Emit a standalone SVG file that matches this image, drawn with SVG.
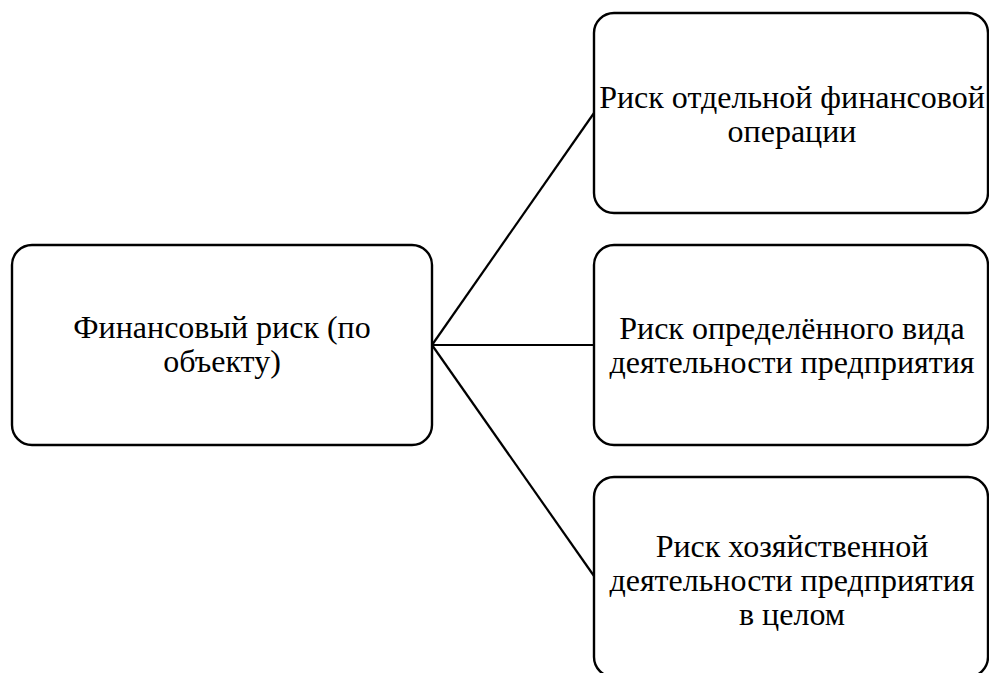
<svg xmlns="http://www.w3.org/2000/svg" width="989" height="673" viewBox="0 0 989 673">
  <style>
    .box { fill: #ffffff; stroke: #000000; stroke-width: 2.4; }
    .edge { fill: none; stroke: #000000; stroke-width: 2.2; }
    .label { font-family: 'Liberation Serif', 'Times New Roman', serif; font-size: 32px; fill: #000000; text-anchor: middle; }
  </style>
  <rect width="989" height="673" fill="#ffffff"/>
  <g id="connectors">
    <line class="edge" x1="432" y1="345" x2="594" y2="113"/>
    <line class="edge" x1="432" y1="345" x2="594" y2="345"/>
    <line class="edge" x1="432" y1="345" x2="594" y2="576"/>
  </g>
  <g id="root">
    <rect class="box" x="12" y="245" width="420" height="200" rx="20" ry="20"/>
    <text class="label" x="222" y="338">Финансовый риск (по</text>
    <text class="label" x="222" y="372">объекту)</text>
  </g>
  <g id="operation">
    <rect class="box" x="594" y="13" width="394" height="200" rx="20" ry="20"/>
    <text class="label" x="792" y="108">Риск отдельной финансовой</text>
    <text class="label" x="792" y="142">операции</text>
  </g>
  <g id="activity">
    <rect class="box" x="594" y="245" width="394" height="200" rx="20" ry="20"/>
    <text class="label" x="792" y="339">Риск определённого вида</text>
    <text class="label" x="792" y="373">деятельности предприятия</text>
  </g>
  <g id="enterprise">
    <rect class="box" x="594" y="477" width="394" height="200" rx="20" ry="20"/>
    <text class="label" x="792" y="557">Риск хозяйственной</text>
    <text class="label" x="792" y="591">деятельности предприятия</text>
    <text class="label" x="792" y="625">в целом</text>
  </g>
</svg>
